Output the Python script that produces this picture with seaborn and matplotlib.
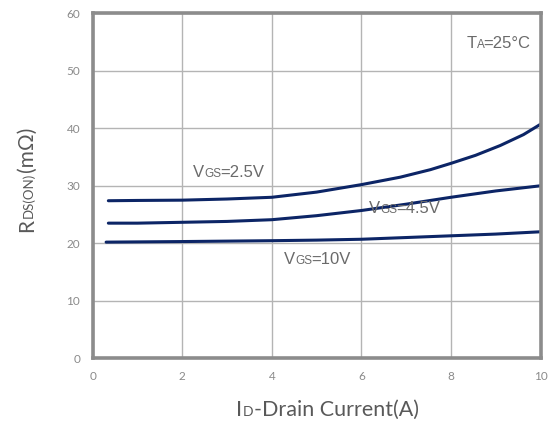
import matplotlib
matplotlib.use("Agg")
import matplotlib.pyplot as plt
from matplotlib.transforms import IdentityTransform
import seaborn as sns
import pandas as pd

# Drain current (A) and on-resistance (mΩ) for each gate voltage
id_25 = [0.35, 1, 2, 3, 4, 5, 6, 6.87, 7.54, 8, 8.55, 9.1, 9.62, 10]
rds_25 = [27.4, 27.45, 27.5, 27.7, 28.0, 28.9, 30.2, 31.5, 32.8, 33.9, 35.3, 37.0, 38.9, 40.7]

id_45 = [0.35, 1, 2, 3, 4, 5, 6, 7, 8, 9, 10]
rds_45 = [23.5, 23.5, 23.65, 23.8, 24.1, 24.8, 25.7, 26.8, 28.0, 29.1, 30.0]

id_10 = [0.3, 2, 4, 5, 6, 7, 8, 9, 10]
rds_10 = [20.2, 20.3, 20.45, 20.55, 20.7, 21.0, 21.3, 21.6, 22.0]

x_ticks = [0, 2, 4, 6, 8, 10]
y_ticks = [0, 10, 20, 30, 40, 50, 60]

sns.set_style("white")

frames = []
for name, xs, ys in [("2.5", id_25, rds_25), ("4.5", id_45, rds_45), ("10", id_10, rds_10)]:
    frames.append(pd.DataFrame({"ID": xs, "RDS": ys, "VGS": name}))
df = pd.concat(frames, ignore_index=True)

fig = plt.figure(figsize=(5.53, 4.23), dpi=100)
ax = fig.add_axes([0.1676, 0.153, 0.8098, 0.8156])

curve_color = "#0c2566"
sns.lineplot(data=df, x="ID", y="RDS", hue="VGS", units="VGS", estimator=None,
             palette=[curve_color] * 3, linewidth=2.2, legend=False, ax=ax, sort=True)

ax.set_xlim(0, 10)
ax.set_ylim(0, 60)
ax.set_xticks(x_ticks)
ax.set_yticks(y_ticks)
ax.grid(True, color="#b4b4b4", linewidth=1.0)
ax.set_axisbelow(True)
for s in ax.spines.values():
    s.set_visible(True)
    s.set_color("#8c8c8c")
    s.set_linewidth(2.6)
ax.tick_params(axis="both", length=0, labelsize=8.5, labelcolor="#8a8a8a", pad=9)
for lab in ax.get_xticklabels() + ax.get_yticklabels():
    lab.set_family("Lato")
ax.set_xlabel("")
ax.set_ylabel("")

fig.canvas.draw()
renderer = fig.canvas.get_renderer()


def text_run(x, y, pieces, rotation=0, **kw):
    """Draw text pieces one after another, starting at pixel (x, y) on the baseline."""
    for s, size, gap in pieces:
        if rotation == 90:
            y += gap
        else:
            x += gap
        t = fig.text(x, y, s, fontsize=size, transform=IdentityTransform(),
                     rotation=rotation, rotation_mode="anchor",
                     ha="left", va="baseline", **kw)
        bb = t.get_window_extent(renderer)
        if rotation == 90:
            y += bb.height
        else:
            x += bb.width


axis_font = dict(family="Lato", color="#595959")
text_run(236, 7.5, [("I", 15.5, 0), ("D", 10, 1), ("-Drain Current(A)", 15.5, 0.5)], **axis_font)
text_run(33, 191, [("R", 15, 0), ("DS(ON)", 9.5, 1), ("(mΩ)", 15, 1)], rotation=90, **axis_font)

note_font = dict(family="Liberation Sans", color="#6a6a6a")


def data_run(xd, yd, pieces):
    px, py = ax.transData.transform((xd, yd))
    text_run(px, py, pieces, **note_font)


data_run(2.23, 31.6, [("V", 12, 0), ("GS", 8.5, 0.5), ("=2.5V", 12, -1)])
data_run(6.16, 25.3, [("V", 12, 0), ("GS", 8.5, 0.5), ("=4.5V", 12, -1)])
data_run(4.26, 16.4, [("V", 12, 0), ("GS", 8.5, 0.5), ("=10V", 12, -1)])
data_run(8.34, 53.9, [("T", 12, 0), ("A", 8.5, 0.3), ("=25°C", 12, -1)])

fig.savefig("out.png", dpi=100)
